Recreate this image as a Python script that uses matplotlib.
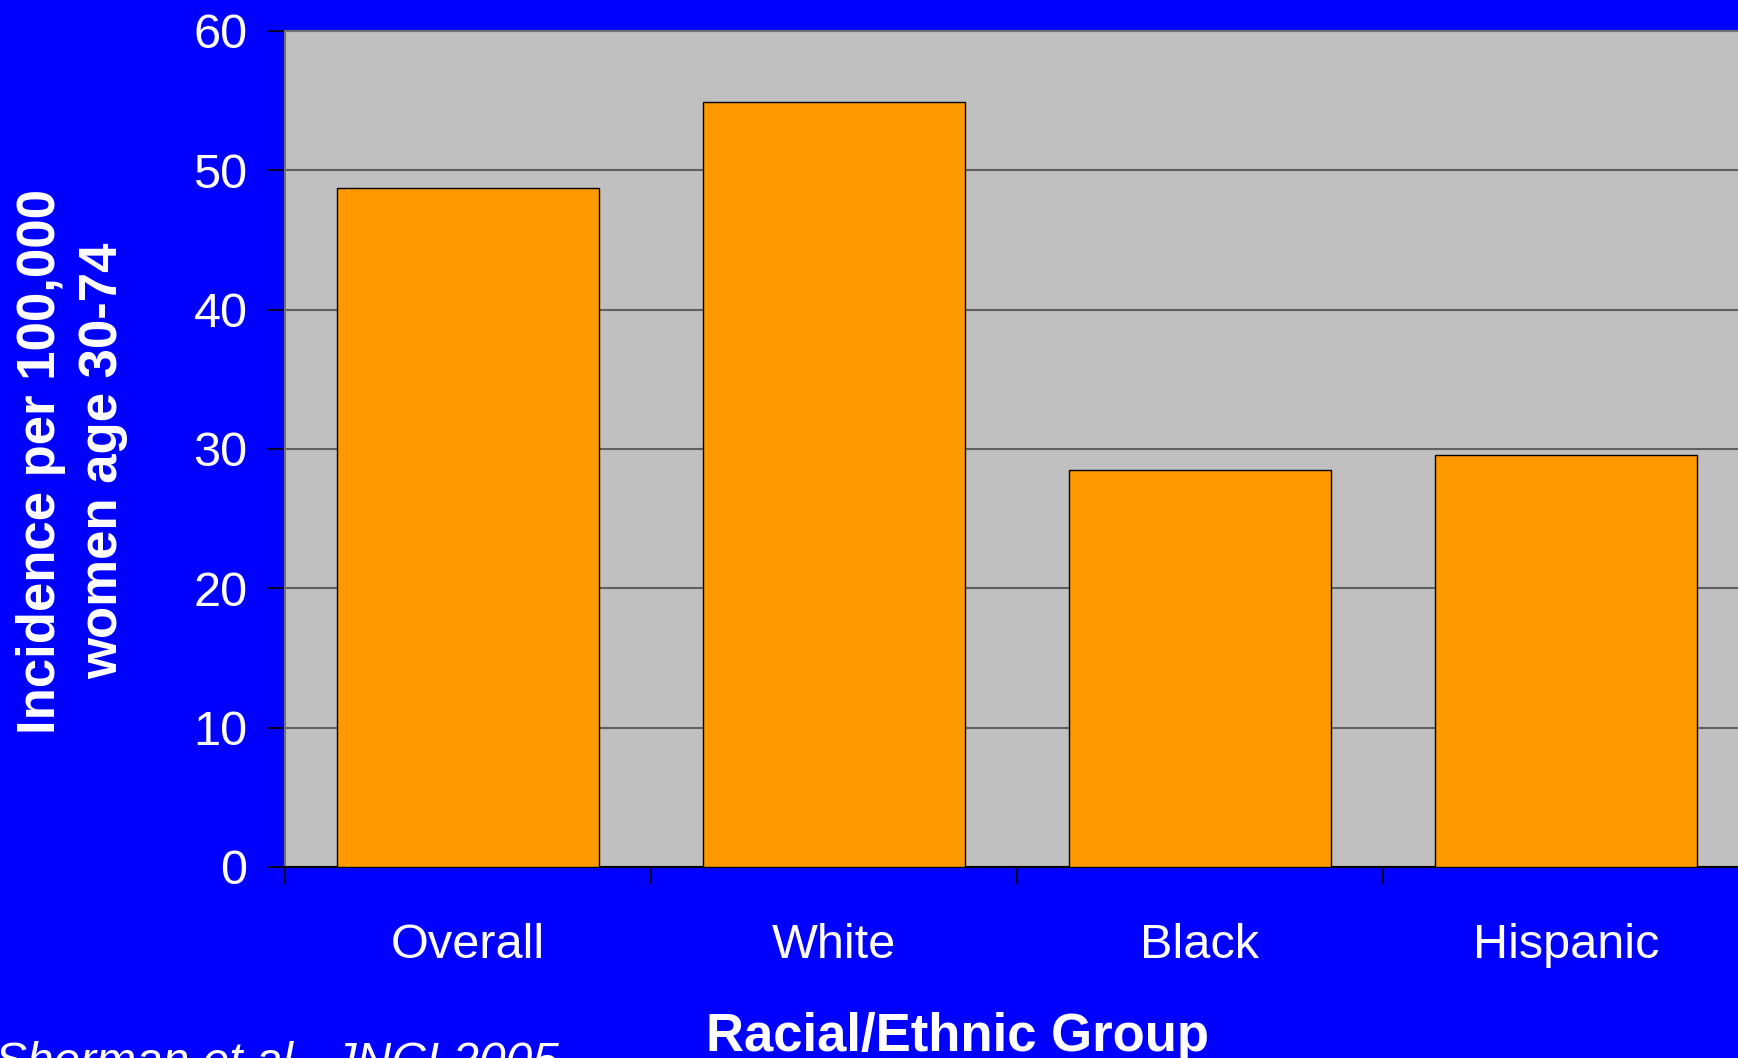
import matplotlib.pyplot as plt
from matplotlib.ticker import FixedLocator

groups = ['Overall', 'White', 'Black', 'Hispanic']
incidence = [48.7, 54.9, 28.5, 29.55]
y_ticks = [0, 10, 20, 30, 40, 50, 60]

W, H = 1738, 1058
plt.rcParams['font.family'] = ['Liberation Sans', 'DejaVu Sans']

fig = plt.figure(figsize=(W / 100, H / 100), dpi=100, facecolor='#0000FF')
# plot area runs a little past the right edge of the figure
ax = fig.add_axes([285 / W, 1 - 867 / H, (1749 - 285) / W, (867 - 31) / H])
ax.set_facecolor('#C0C0C0')

x = range(len(groups))
ax.bar(x, incidence, width=0.714, color='#FF9900', edgecolor='black', linewidth=1.0, zorder=3)

ax.set_xlim(-0.5, len(groups) - 0.5)
ax.set_ylim(0, 60)
ax.set_yticks(y_ticks)
ax.yaxis.grid(True, color='#606060', linewidth=1.5, zorder=1)
ax.set_axisbelow(True)

ax.set_xticks(list(x))
ax.set_xticklabels(groups)
ax.xaxis.set_minor_locator(FixedLocator([i - 0.5 for i in range(len(groups) + 1)]))
ax.tick_params(axis='x', which='major', length=0, pad=40, labelsize=35, labelcolor='white')
ax.tick_params(axis='x', which='minor', length=12, width=1.2, color='black', direction='out')
ax.tick_params(axis='y', length=12, width=1.2, color='black', direction='out',
               pad=15, labelsize=35, labelcolor='white')

for s in ['left', 'top', 'right']:
    ax.spines[s].set_color('#707070')
    ax.spines[s].set_linewidth(1.5)
ax.spines['bottom'].set_color('black')
ax.spines['bottom'].set_linewidth(1.5)

fig.text(72 / W, 1 - 461 / H, 'Incidence per 100,000\nwomen age 30-74', rotation=90,
         ha='center', va='center', multialignment='center', color='white',
         fontsize=38, fontweight='bold', linespacing=1.32)
fig.text(958 / W, 0.0066, 'Racial/Ethnic Group', ha='center', va='baseline',
         color='white', fontsize=38, fontweight='bold')
fig.text(-5 / W, -0.017, 'Sherman et al., JNCI 2005', ha='left', va='baseline',
         color='white', fontsize=34.5, fontstyle='italic')

fig.savefig('out.png', dpi=100, facecolor=fig.get_facecolor())
